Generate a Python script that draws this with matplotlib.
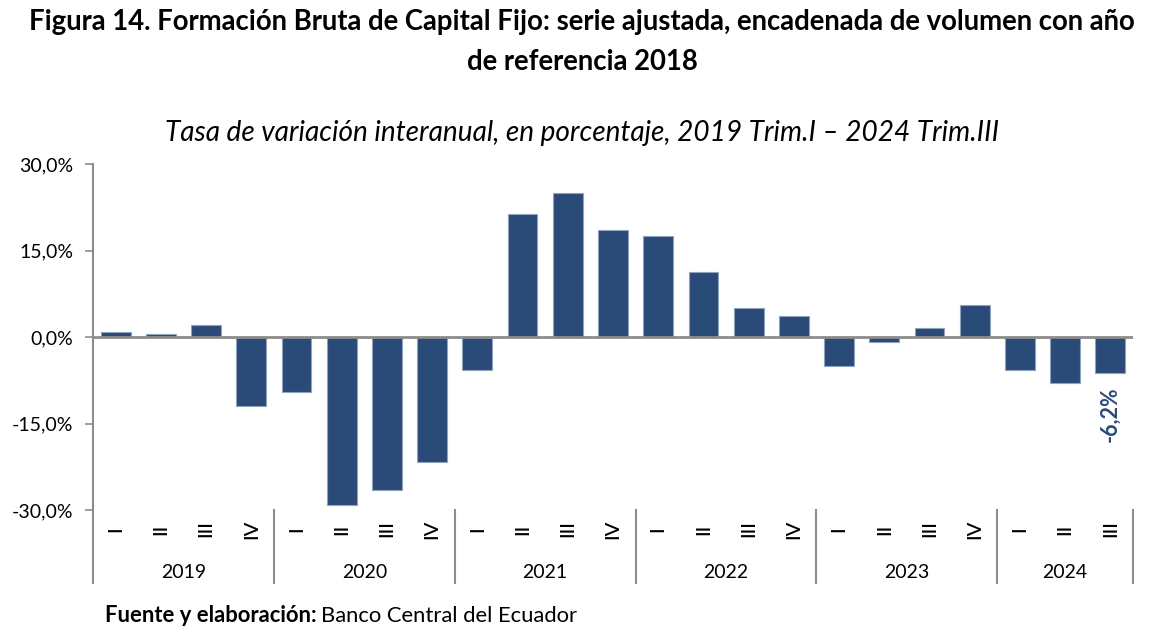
import numpy as np
import matplotlib
matplotlib.use('Agg')
import matplotlib.pyplot as plt
import matplotlib.transforms as mtransforms

plt.rcParams['font.family'] = ['Lato', 'DejaVu Sans']

# Tasa de variacion interanual (%), 2019 T.I - 2024 T.III
years = ['2019', '2020', '2021', '2022', '2023', '2024']
quarters = ['I', 'II', 'III', 'IV']
values = [0.8, 0.6, 2.1, -12.0,
          -9.5, -29.2, -26.6, -21.7,
          -5.7, 21.3, 24.9, 18.6,
          17.5, 11.3, 5.0, 3.6,
          -5.0, -0.9, 1.6, 5.5,
          -5.7, -7.9, -6.2]
yticks = [-30, -15, 0, 15, 30]

n = len(values)
qlabels = [quarters[i % 4] for i in range(n)]
x = np.arange(n)
bar_color = '#2A4A78'
gray = '#8C8C8C'

fig = plt.figure(figsize=(11.64, 6.38), dpi=100)
ax = fig.add_axes([93/1164, 1-510/638, (1133-93)/1164, (510-164)/638])

ax.bar(x, values, width=0.66, color=bar_color, edgecolor='#8FA3BF', linewidth=0.8, zorder=2)
ax.axhline(0, color=gray, linewidth=2, zorder=3)

ax.set_xlim(-0.5, n-0.5)
ax.set_ylim(-30, 30)
ax.set_yticks(yticks)
ax.set_yticklabels([('%.1f%%' % v).replace('.', ',') for v in yticks], fontsize=14)
ax.tick_params(axis='y', length=6, width=1.2, color=gray, pad=8)
ax.set_xticks([])
for s in ['top', 'right', 'bottom', 'left']:
    ax.spines[s].set_visible(False)

trans = mtransforms.blended_transform_factory(ax.transData, ax.transAxes)
low = -0.211
# left axis line down through the category area
ax.plot([-0.5, -0.5], [1, low], color=gray, linewidth=1.5, transform=trans, clip_on=False)
# year separators
for k in range(1, len(years)+1):
    xs = 4*k - 0.5
    if xs > n - 0.5:
        xs = n - 0.5
    ax.plot([xs, xs], [0, low], color=gray, linewidth=1.5, transform=trans, clip_on=False)

for i in range(n):
    ax.text(x[i], -0.055, qlabels[i], rotation=90, ha='center', va='center',
            fontsize=14.5, fontweight='medium', transform=trans)
for k, yr in enumerate(years):
    start = 4*k
    end = min(4*k+3, n-1)
    ax.text((start+end)/2, -0.18, yr, ha='center', va='center', fontsize=14, transform=trans)

# data label for last bar
ax.text(x[-1], values[-1] - 2.3, ('%.1f%%' % values[-1]).replace('.', ','), rotation=90,
        ha='center', va='top', fontsize=15.5, fontweight='bold', color=bar_color)

fig.text(0.5, 1-22/638, 'Figura 14. Formación Bruta de Capital Fijo: serie ajustada, encadenada de volumen con año',
         ha='center', va='center', fontsize=19.8, fontweight='bold')
fig.text(0.5, 1-62/638, 'de referencia 2018', ha='center', va='center', fontsize=19.8, fontweight='bold')
fig.text(0.5, 1-133/638, 'Tasa de variación interanual, en porcentaje, 2019 Trim.I – 2024 Trim.III',
         ha='center', va='center', fontsize=20.2, style='italic')

t1 = fig.text(105/1164, 1-616/638, 'Fuente y elaboración:', ha='left', va='center',
              fontsize=15.8, fontweight='bold')
fig.canvas.draw()
bb = t1.get_window_extent()
fig.text(bb.x1/1164 + 0.004, 1-616/638, 'Banco Central del Ecuador', ha='left', va='center', fontsize=15.8)

plt.savefig('out.png', dpi=100)
